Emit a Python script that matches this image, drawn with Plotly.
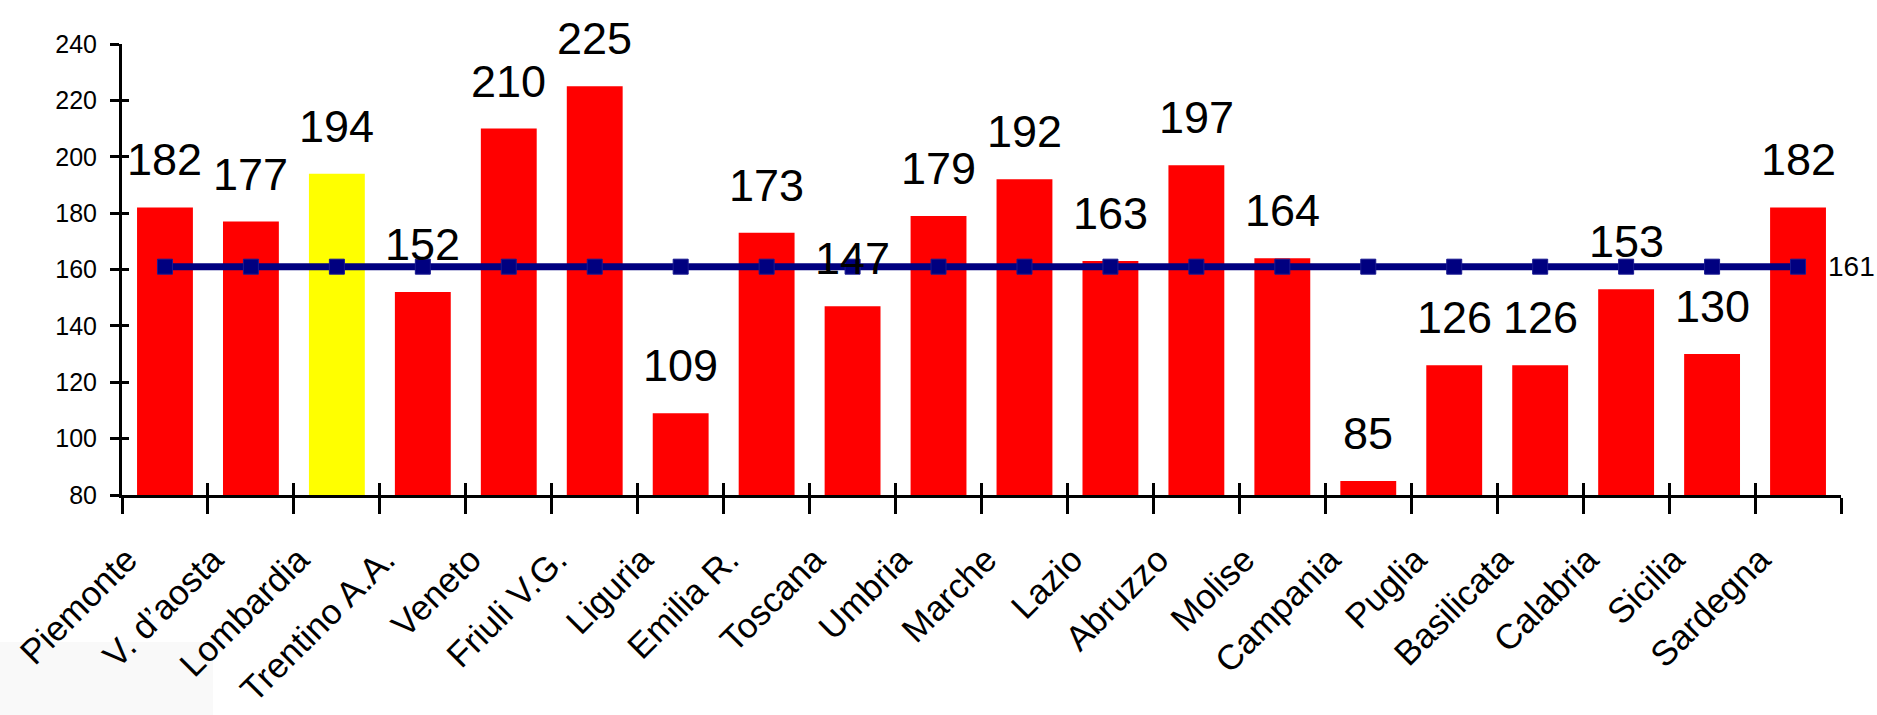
import plotly.graph_objects as go

regions = ["Piemonte", "V. d\u2019aosta", "Lombardia", "Trentino A.A.", "Veneto",
           "Friuli V.G.", "Liguria", "Emilia R.", "Toscana", "Umbria",
           "Marche", "Lazio", "Abruzzo", "Molise", "Campania",
           "Puglia", "Basilicata", "Calabria", "Sicilia", "Sardegna"]
values = [182, 177, 194, 152, 210, 225, 109, 173, 147, 179,
          192, 163, 197, 164, 85, 126, 126, 153, 130, 182]
bar_colors = ["#FF0000", "#FF0000", "#FFFF00", "#FF0000", "#FF0000",
              "#FF0000", "#FF0000", "#FF0000", "#FF0000", "#FF0000",
              "#FF0000", "#FF0000", "#FF0000", "#FF0000", "#FF0000",
              "#FF0000", "#FF0000", "#FF0000", "#FF0000", "#FF0000"]
mean_line = [161, 161, 161, 161, 161, 161, 161, 161, 161, 161,
             161, 161, 161, 161, 161, 161, 161, 161, 161, 161]
y_ticks = [80, 100, 120, 140, 160, 180, 200, 220, 240]

FONT = "Arial, Liberation Sans, sans-serif"
NAVY = "#000080"

fig = go.Figure()
fig.add_trace(go.Bar(x=regions, y=values, marker=dict(color=bar_colors, line=dict(width=0)),
                     hoverinfo="x+y", showlegend=False))
fig.add_trace(go.Scatter(x=regions, y=mean_line, mode="lines+markers",
                         line=dict(color=NAVY, width=7),
                         marker=dict(symbol="square", size=15, color=NAVY,
                                     line=dict(color="#1a1a90", width=1)),
                         showlegend=False))
# invisible helper trace for the overlay axes (inner half of crossing ticks)
fig.add_trace(go.Scatter(x=regions, y=values, xaxis="x2", yaxis="y2", mode="markers",
                         marker=dict(opacity=0), hoverinfo="skip", showlegend=False))

annotations = []
for r, v in zip(regions, values):
    annotations.append(dict(x=r, y=v, text=str(v), showarrow=False, yanchor="bottom",
                            yshift=20, font=dict(family=FONT, size=45, color="black")))
annotations.append(dict(x=regions[-1], y=mean_line[-1], text=str(mean_line[-1]), showarrow=False,
                        xanchor="left", yanchor="middle", xshift=28,
                        font=dict(family=FONT, size=28, color="black")))

axis_common = dict(showgrid=False, zeroline=False, automargin=False)
fig.update_layout(
    template="none",
    width=1877, height=715,
    margin=dict(l=122, r=36, t=44, b=220, pad=0),
    paper_bgcolor="white", plot_bgcolor="white",
    bargap=0.35,
    showlegend=False,
    annotations=annotations,
    shapes=[dict(type="rect", xref="paper", yref="paper", x0=-122/1719, x1=(213-122)/1719,
                 y0=-220/451, y1=-(642-495)/451, fillcolor="#f9f9f9", line=dict(width=0),
                 layer="below")],
    xaxis=dict(type="category", categoryarray=regions, categoryorder="array",
               range=[-0.5, len(regions) - 0.5], tickson="boundaries",
               ticks="outside", ticklen=16, tickwidth=3, tickcolor="black",
               showline=True, linecolor="black", linewidth=3,
               tickangle=-45, tickfont=dict(family=FONT, size=35, color="black"),
               ticklabelstandoff=27, ticklabelshift=-38, **axis_common),
    xaxis2=dict(type="category", categoryarray=regions, categoryorder="array",
                range=[-0.5, len(regions) - 0.5], tickson="boundaries",
                overlaying="x", anchor="y", side="bottom",
                ticks="inside", ticklen=12, tickwidth=3, tickcolor="black",
                showline=False, showticklabels=False, **axis_common),
    yaxis=dict(range=[80, 240], tickvals=y_ticks, ticks="outside", ticklen=9, tickwidth=3,
               tickcolor="black", showline=True, linecolor="black", linewidth=3,
               tickfont=dict(family=FONT, size=25, color="black"),
               ticklabelstandoff=8, **axis_common),
    yaxis2=dict(range=[80, 240], tickvals=y_ticks, overlaying="y", anchor="x", side="left",
                ticks="inside", ticklen=7, tickwidth=3, tickcolor="black",
                showline=False, showticklabels=False, **axis_common),
)

fig.write_html("out.html", config={"displayModeBar": False},
               post_script="document.body.style.margin='0px';document.body.style.overflow='hidden';")
